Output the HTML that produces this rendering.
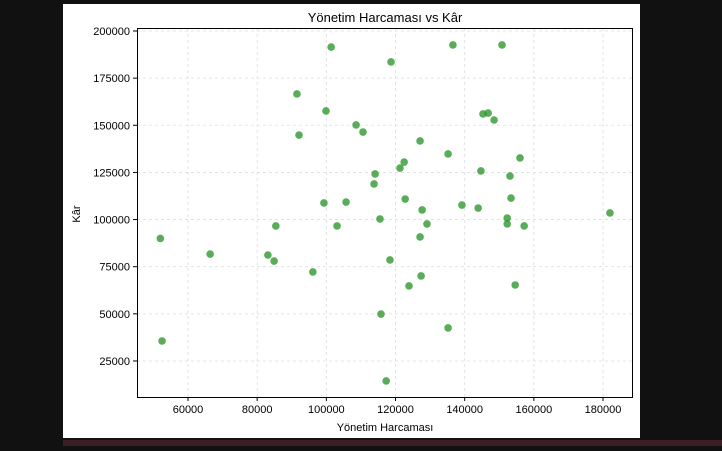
<!DOCTYPE html>
<html><head><meta charset="utf-8"><style>
body{margin:0;width:722px;height:446px;background:#111;overflow:hidden;font-family:"Liberation Sans","DejaVu Sans",sans-serif}
</style></head><body>
<svg width="722" height="446" xmlns="http://www.w3.org/2000/svg">
<rect x="63" y="4" width="577" height="434" fill="#fff"/>
<rect x="63" y="440" width="659" height="6" fill="#3a2022"/>
<g id="grid"></g>
<g id="ticks"></g>
<g id="pts"></g>
<rect x="137.5" y="28.5" width="495" height="369" fill="none" stroke="#000" stroke-width="1"/>
<text x="385" y="22" font-size="13" text-anchor="middle">Yönetim Harcaması vs Kâr</text>
<text x="385" y="431" font-size="11" text-anchor="middle">Yönetim Harcaması</text>
<text x="0" y="0" font-size="11" text-anchor="middle" transform="translate(80,214) rotate(-90)">Kâr</text>
</svg>
<script>
const xs=[52000,52500,66400,83100,84900,85400,91500,92100,96100,99300,99900,101400,103100,105700,108600,110600,114100,113800,115500,115800,117300,118400,118700,121300,122500,122800,123900,127100,127100,127400,127700,129100,135200,135200,136600,139200,143900,144700,145300,146800,148500,150800,152300,152300,153100,153400,154600,156000,157200,182000];
const ys=[90000,35600,81700,81200,78000,96600,166600,144800,72200,108800,157600,191500,96600,109300,150200,146400,124200,118900,100300,49900,14400,78600,183600,127300,130500,110900,64800,141700,90800,70100,105100,97700,134800,42500,192600,107700,106100,125800,156000,156500,152800,192600,100800,97700,123100,111400,65300,132700,96600,103500];
const xTicks=[60000,80000,100000,120000,140000,160000,180000];
const yTicks=[25000,50000,75000,100000,125000,150000,175000,200000];
const NS="http://www.w3.org/2000/svg";
const X=v=>188+(v-60000)/20000*69.17;
const Y=v=>31+(200000-v)/25000*47.14;
function mk(t,a,p){const e=document.createElementNS(NS,t);for(const k in a)e.setAttribute(k,a[k]);p.appendChild(e);return e;}
const g=document.getElementById('grid'),tk=document.getElementById('ticks'),pts=document.getElementById('pts');
xTicks.forEach(v=>{const x=X(v);
const l=mk('line',{x1:x,x2:x,y1:28,y2:397,stroke:'#ddd','stroke-dasharray':'3,3','stroke-width':0.8},g);


const m=mk('line',{x1:x,x2:x,y1:397,y2:401,stroke:'#000'},tk);


const t=mk('text',{x:x,y:413,'font-size':11,'text-anchor':'middle'},tk);t.textContent=v;

});
yTicks.forEach(v=>{const y=Y(v);
const l=mk('line',{x1:137,x2:632,y1:y,y2:y,stroke:'#ddd','stroke-dasharray':'3,3','stroke-width':0.8},g);


const m=mk('line',{x1:133,x2:137,y1:y,y2:y,stroke:'#000'},tk);


const t=mk('text',{x:130,y:y+4,'font-size':11,'text-anchor':'end'},tk);t.textContent=v;

});
xs.forEach((v,i)=>{const c=mk('circle',{cx:X(v),cy:Y(ys[i]),r:3.8,fill:'#2a952a','fill-opacity':0.78},pts);

});
</script>
</body></html>
